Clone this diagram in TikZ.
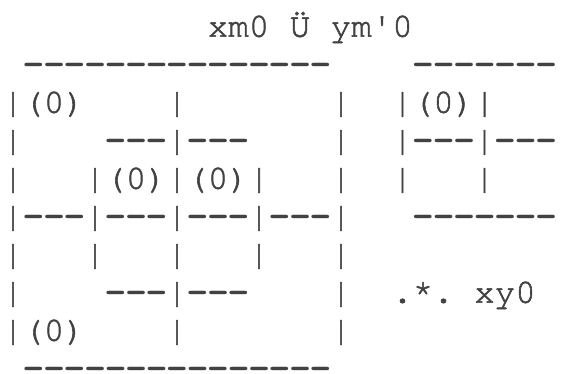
\documentclass[tikz,border=0pt]{standalone}
\usepackage{fontspec}
\newfontfamily\cur{texgyrecursor-regular.otf}[FakeBold=1.6]
\newfontfamily\curb{texgyrecursor-bold.otf}
\definecolor{ink}{rgb}{0.26,0.26,0.26}
\def\cells#1{\cellsi#1\relax}
\def\cellsi#1{\ifx\relax#1\else\makebox[20.5pt][c]{\ifx-#1\curb\fi#1}\expandafter\cellsi\fi}
\tikzset{
  txt/.style={anchor=base west, inner sep=0pt, outer sep=0pt, text=ink,
    font=\cur\fontsize{34.2pt}{38pt}\selectfont}
}
\newcommand\seg[4]{\node[txt] (#1) at ({(2.75+20.5*#2)*1pt},{-(36.7+38*#3)*1pt}) {\cells{#4}};}
\begin{document}
\begin{tikzpicture}
\useasboundingbox (0,0) rectangle (564pt,-373pt);
% row 0: title
\seg{ta}{10}{0}{xm0}
\seg{tb}{14}{0}{Ü}
\seg{tc}{16}{0}{ym'0}
% row 1
\seg{a1}{1}{1}{---------------}
\seg{b1}{20}{1}{-------}
% row 2
\seg{a2}{0}{2}{|(0)}
\seg{b2}{8}{2}{|}
\seg{c2}{16}{2}{|}
\seg{d2}{19}{2}{|(0)|}
% row 3
\seg{a3}{0}{3}{|}
\seg{b3}{5}{3}{---|---}
\seg{c3}{16}{3}{|}
\seg{d3}{19}{3}{|---|---}
% row 4
\seg{a4}{0}{4}{|}
\seg{b4}{4}{4}{|(0)|(0)|}
\seg{c4}{16}{4}{|}
\seg{d4}{19}{4}{|}
\seg{e4}{23}{4}{|}
% row 5
\seg{a5}{0}{5}{|---|---|---|---|}
\seg{b5}{20}{5}{-------}
% row 6
\seg{a6}{0}{6}{|}
\seg{b6}{4}{6}{|}
\seg{c6}{8}{6}{|}
\seg{d6}{12}{6}{|}
\seg{e6}{16}{6}{|}
% row 7
\seg{a7}{0}{7}{|}
\seg{b7}{5}{7}{---|---}
\seg{c7}{16}{7}{|}
\seg{d7}{19}{7}{.*.}
\seg{e7}{23}{7}{xy0}
% row 8
\seg{a8}{0}{8}{|(0)}
\seg{b8}{8}{8}{|}
\seg{c8}{16}{8}{|}
% row 9
\seg{a9}{1}{9}{---------------}
\end{tikzpicture}
\end{document}
